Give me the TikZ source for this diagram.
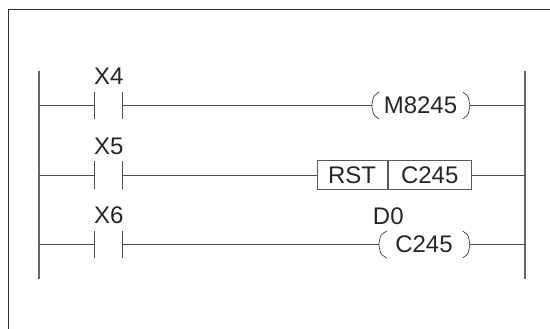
\documentclass[tikz,border=0pt]{standalone}
\usepackage{fontspec}
\setmainfont{Liberation Sans}
\tikzset{
  x=1pt,y=-1pt,
  rail/.style={line width=1.2pt,draw=black!60},
  wire/.style={line width=0.9pt,draw=black!70},
  bar/.style={line width=0.9pt,draw=black!70},
  lbl/.style={font=\fontsize{24}{24}\selectfont,text=black!85,inner sep=0pt,anchor=base},
  paren/.style={line width=0.7pt,draw=black!75,line join=round,rounded corners=1.5pt},
  boxcell/.style={draw=black!65,line width=0.9pt,minimum height=28.5pt,inner sep=0pt,font=\fontsize{24}{24}\selectfont,text=black!85,anchor=west}
}
\begin{document}
\begin{tikzpicture}
\useasboundingbox (0,0) rectangle (550,329);
\draw[line width=1pt,draw=black!80] (550,10) -- (8.5,10) -- (8.5,329);
% rails
\coordinate (lt) at (39,71); \coordinate (lb) at (39,279);
\coordinate (rt) at (525,71); \coordinate (rb) at (525,279);
\draw[rail] (lt) -- (lb);
\draw[rail] (rt) -- (rb);
% rail taps
\coordinate (l1) at (39,105.5); \coordinate (r1) at (525,105.5);
\coordinate (l2) at (39,175); \coordinate (r2) at (525,175);
\coordinate (l3) at (39,244.5); \coordinate (r3) at (525,244.5);
% contact plates
\foreach \n/\y in {1/105.5,2/175,3/244.5}{
  \coordinate (ca\n t) at (94.5,\y-13.7); \coordinate (ca\n b) at (94.5,\y+13.7);
  \coordinate (cb\n t) at (122.3,\y-13.7); \coordinate (cb\n b) at (122.3,\y+13.7);
  \coordinate (ca\n) at (94.5,\y); \coordinate (cb\n) at (122.3,\y);
  \draw[bar] (ca\n t) -- (ca\n b);
  \draw[bar] (cb\n t) -- (cb\n b);
  \draw[wire] (l\n) -- (ca\n);
}
% contact labels
\node[lbl] (x4) at (108.7,85) {X4};
\node[lbl] (x5) at (108.7,154.3) {X5};
\node[lbl] (x6) at (108.7,224) {X6};
% coil 1
\node[lbl] (m) at (420.5,113.5) {M8245};
\coordinate (c1l) at (371.7,105.5); \coordinate (c1r) at (470,105.5);
\draw[paren] (379,92) -- (373.7,96) -- (c1l) -- (373.7,115) -- (379,119);
\draw[paren] (462.7,92) -- (468,96) -- (c1r) -- (468,115) -- (462.7,119);
\draw[wire] (cb1) -- (c1l);
\draw[wire] (c1r) -- (r1);
% RST box
\node[boxcell,minimum width=70pt] (rst) at (316.7,175) {RST};
\node[boxcell,minimum width=83.3pt] (c245a) at (rst.east) {C245};
\draw[wire] (cb2) -- (rst.west);
\draw[wire] (c245a.east) -- (r2);
% coil 3
\node[lbl] (d0) at (388.3,224.5) {D0};
\node[lbl] (c245b) at (424,252.8) {C245};
\coordinate (c3l) at (378.7,244.5); \coordinate (c3r) at (470,244.5);
\draw[paren] (386.7,231) -- (380.7,235) -- (c3l) -- (380.7,254) -- (386.7,258);
\draw[paren] (462.7,231) -- (468,235) -- (c3r) -- (468,254) -- (462.7,258);
\draw[wire] (cb3) -- (c3l);
\draw[wire] (c3r) -- (r3);
\end{tikzpicture}
\end{document}
